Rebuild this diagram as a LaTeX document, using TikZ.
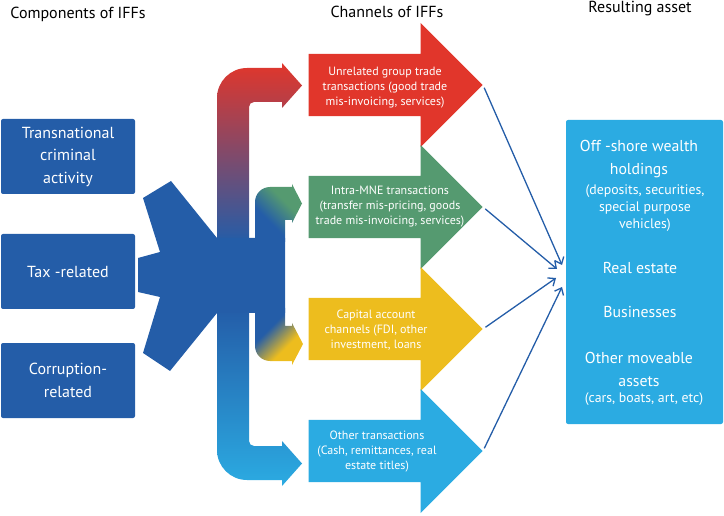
\documentclass[tikz,border=0pt]{standalone}
\usepackage{fontspec}
\setmainfont{PT Sans}
\usetikzlibrary{positioning,shapes.arrows,arrows.meta}
\definecolor{iffblue}{RGB}{36,93,168}
\definecolor{iffred}{RGB}{225,54,43}
\definecolor{iffpurple}{RGB}{165,72,122}
\definecolor{iffgreen}{RGB}{85,154,112}
\definecolor{iffyellow}{RGB}{237,189,30}
\definecolor{iffcyan}{RGB}{43,171,226}
\definecolor{iffmid}{RGB}{38,125,195}
\pgfdeclareverticalshading{bluetogreen}{100bp}{color(0bp)=(iffblue); color(38bp)=(iffblue);
  color(62bp)=(iffgreen); color(100bp)=(iffgreen)}
\pgfdeclareverticalshading{yellowtoblue}{100bp}{color(0bp)=(iffyellow); color(38bp)=(iffyellow);
  color(62bp)=(iffblue); color(100bp)=(iffblue)}

\begin{document}
\begin{tikzpicture}
  [x=1pt, y=-1pt,
  every node/.style={align=center, text=white, inner sep=0pt},
  comp/.style={rectangle, rounded corners=2pt, fill=iffblue,
    minimum width=134pt, minimum height=75pt,
    font=\fontsize{16}{22.5}\selectfont},
  chan/.style={single arrow, minimum height=174pt, minimum width=124pt,
    inner xsep=0pt, inner ysep=31pt, single arrow head extend=31pt, anchor=tip},
  chantext/.style={font=\fontsize{12}{15}\selectfont},
  heading/.style={text=black, font=\fontsize{16}{18}\selectfont},
  assetbig/.style={font=\fontsize{15.8}{23}\selectfont},
  assetsmall/.style={font=\fontsize{13.8}{17}\selectfont},
  flow/.style={draw=iffblue, line width=1.3pt, shorten <=3pt,
    -{Straight Barb[length=6pt,width=10pt]}},
  ]
  \useasboundingbox (0,0) rectangle (724,516);

  % headings
  \node[heading] (hcomp) at (78,14) {Components of IFFs};
  \node[heading] (hchan) at (387,12) {Channels of IFFs};
  \node[heading] (hasset) at (640,9) {Resulting asset};

  % components
  \node[comp] (crime) at (68,156.5) {Transnational\\criminal\\activity};
  \node[comp] (tax) at (68,271.5) {Tax -related};
  \node[comp] (corrupt) at (68,380.5) {Corruption-\\related};

  % gradient flows up and down
  \shade[top color=iffred, middle color=iffpurple, bottom color=iffblue]
    (217,242) -- (217,98) arc[start angle=180, end angle=270, radius=30]
    -- (282,68) -- (282,63) -- (302,85.5) -- (282,108) -- (282,102)
    -- (254,102) arc[start angle=270, end angle=180, radius=5]
    -- (249,242) -- cycle;
  \shade[top color=iffblue, middle color=iffmid, bottom color=iffcyan]
    (217,309) -- (217,450) arc[start angle=180, end angle=90, radius=30]
    -- (282,480) -- (282,486) -- (302,463.5) -- (282,441) -- (282,446)
    -- (254,446) arc[start angle=90, end angle=180, radius=5]
    -- (249,309) -- cycle;

  % converging block
  \fill[iffblue] (143,198) -- (171,181) -- (217,238) -- (285,238)
    -- (285,313) -- (217,313) -- (170,371) -- (143,353) -- (160,297)
    -- (138,292) -- (138,258) -- (160,252) -- cycle;

  % side arms
  \shade[shading=bluetogreen, shading angle=-45]
    (255,242) -- (255,202) arc[start angle=180, end angle=270, radius=15]
    -- (292,187) -- (292,184) -- (302,203.5) -- (292,223) -- (292,220)
    -- (285,220) -- (285,242) -- cycle;
  \shade[shading=yellowtoblue, shading angle=45]
    (255,308) -- (255,346) arc[start angle=180, end angle=90, radius=15]
    -- (292,361) -- (292,365) -- (303,344) -- (292,323) -- (292,326)
    -- (285,326) -- (285,308) -- cycle;

  % channels
  \node[chan, fill=iffred] (unrel) at (483,85) {};
  \node[chan, fill=iffgreen] (intra) at (483,207) {};
  \node[chan, fill=iffyellow] (capital) at (483,329) {};
  \node[chan, fill=iffcyan] (other) at (483,451) {};
  \node[chantext] (unrel text) at (385,88)
    {Unrelated group trade\\transactions (good trade\\mis-invoicing, services)};
  \node[chantext] (intra text) at (390,207)
    {Intra-MNE transactions\\(transfer mis-pricing, goods\\trade mis-invoicing, services)};
  \node[chantext] (capital text) at (376,330)
    {Capital account\\channels (FDI, other\\investment, loans};
  \node[chantext] (other text) at (377,452)
    {Other transactions\\(Cash, remittances, real\\estate titles)};

  % resulting asset
  \node[rectangle, rounded corners=2pt, fill=iffcyan, minimum width=157pt,
    minimum height=304pt] (asset) at (644.5,272) {};
  \node[assetbig] (offshore) at (639,159.5) {Off -shore wealth\\holdings};
  \node[assetsmall] (offshore detail) at (645,208)
    {(deposits, securities,\\special purpose\\vehicles)};
  \node[assetbig] (realestate) at (640,268) {Real estate};
  \node[assetbig] (business) at (640,312) {Businesses};
  \node[assetbig] (moveable) at (639,369.5) {Other moveable\\assets};
  \node[assetsmall] (moveable detail) at (644,399) {(cars, boats, art, etc)};

  \coordinate (in1) at (562,265);
  \coordinate (in2) at (557,269);
  \coordinate (in3) at (556,278);
  \coordinate (in4) at (562,287);
  \draw[flow] (unrel.tip) -- (in1);
  \draw[flow] (intra.tip) -- (in2);
  \draw[flow] (capital.tip) -- (in3);
  \draw[flow] (other.tip) -- (in4);
\end{tikzpicture}
\end{document}
